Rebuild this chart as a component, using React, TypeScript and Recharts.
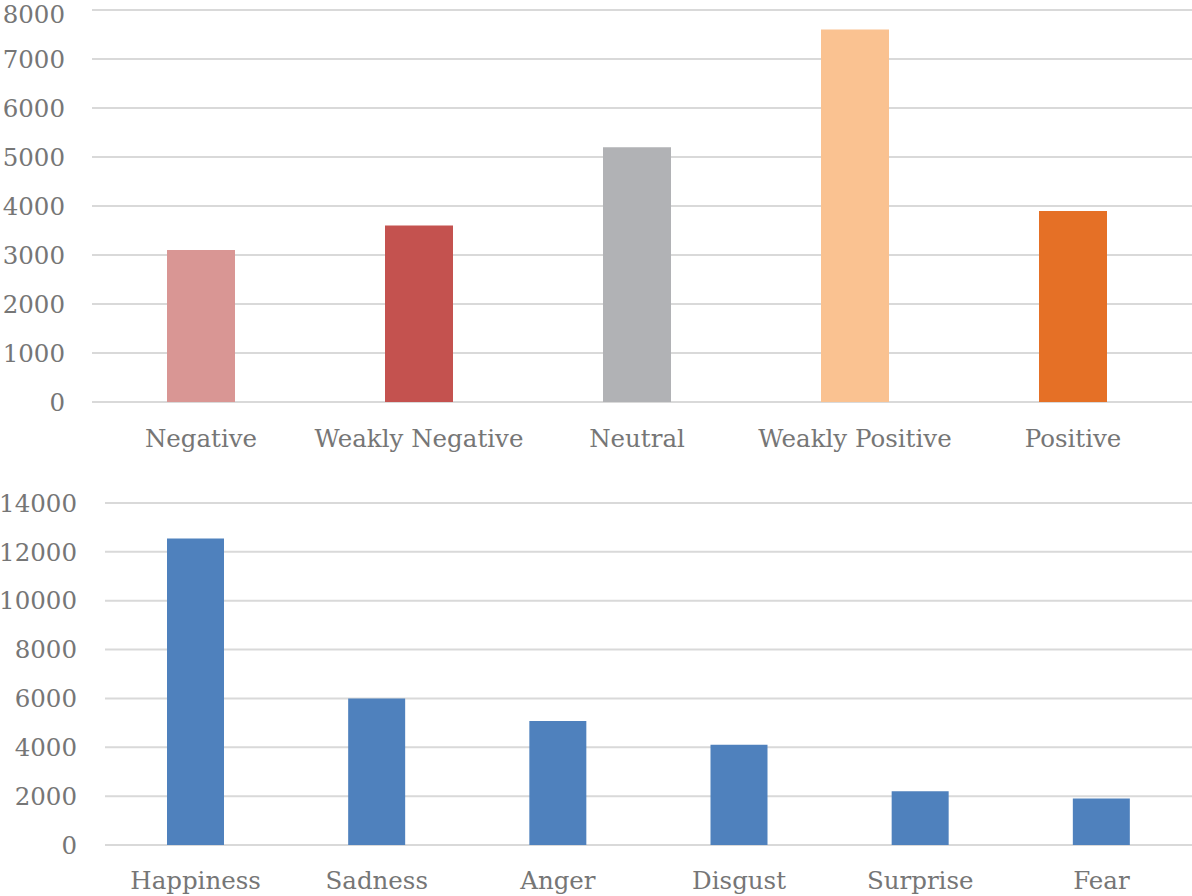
import { BarChart, Bar, XAxis, YAxis, CartesianGrid, Cell } from 'recharts'

// Top chart: sentiment classes
const sentimentLabels = ['Negative', 'Weakly Negative', 'Neutral', 'Weakly Positive', 'Positive']
const sentimentCounts = [3100, 3600, 5200, 7600, 3900]
const sentimentColors = ['#d99694', '#c4524f', '#b1b2b5', '#fac291', '#e57026']
const sentimentTicks = [0, 1000, 2000, 3000, 4000, 5000, 6000, 7000, 8000]

// Bottom chart: emotion classes
const emotionLabels = ['Happiness', 'Sadness', 'Anger', 'Disgust', 'Surprise', 'Fear']
const emotionCounts = [12550, 6000, 5080, 4100, 2200, 1900]
const emotionTicks = [0, 2000, 4000, 6000, 8000, 10000, 12000, 14000]

const FONT = '"DejaVu Serif", serif'
const TEXT = '#767676'
const GRID = '#d9d9d9'

const sentimentData = sentimentLabels.map((name, i) => ({ name, value: sentimentCounts[i] }))
const emotionData = emotionLabels.map((name, i) => ({ name, value: emotionCounts[i] }))

const tickStyle = { fill: TEXT, fontSize: 24.5, fontFamily: FONT }

export default function App() {
  return (
    <div style={{ position: 'absolute', left: 0, top: 0, width: 1192, height: 896, background: '#fff' }}>
      <BarChart width={1192} height={460} data={sentimentData} margin={{ top: 10, right: 0, left: 0, bottom: 0 }}>
        <CartesianGrid vertical={false} stroke={GRID} strokeWidth={2} />
        <XAxis
          dataKey="name"
          axisLine={false}
          tickLine={false}
          height={58}
          tick={tickStyle}
          tickMargin={22}
          interval={0}
          padding={{ left: 0, right: 10 }}
        />
        <YAxis
          domain={[0, 8000]}
          ticks={sentimentTicks}
          axisLine={false}
          tickLine={false}
          width={92}
          tickMargin={21}
          tick={tickStyle}
        />
        <Bar dataKey="value" barSize={68} isAnimationActive={false}>
          {sentimentData.map((d, i) => (
            <Cell key={d.name} fill={sentimentColors[i]} />
          ))}
        </Bar>
      </BarChart>
      <BarChart width={1192} height={436} data={emotionData} margin={{ top: 43, right: 0, left: 0, bottom: 0 }}>
        <CartesianGrid vertical={false} stroke={GRID} strokeWidth={2} />
        <XAxis dataKey="name" axisLine={false} tickLine={false} height={51} tick={tickStyle} tickMargin={21} interval={0} />
        <YAxis
          domain={[0, 14000]}
          ticks={emotionTicks}
          axisLine={false}
          tickLine={false}
          width={105}
          tickMargin={22}
          tick={tickStyle}
        />
        <Bar dataKey="value" fill="#4f81bd" barSize={57} isAnimationActive={false} />
      </BarChart>
    </div>
  )
}
